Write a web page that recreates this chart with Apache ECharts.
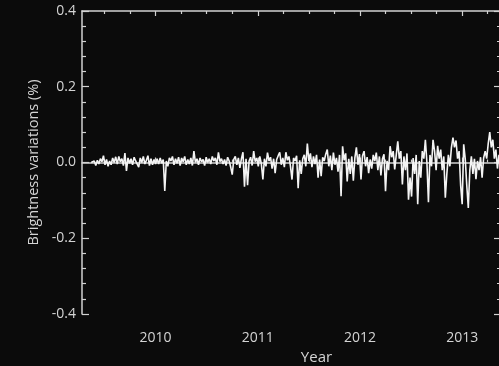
<!DOCTYPE html>
<html>
<head>
<meta charset="utf-8">
<title>Brightness variations</title>
<script src="https://cdn.jsdelivr.net/npm/echarts@6.0.0/dist/echarts.min.js"></script>
<style>
  html, body { margin: 0; padding: 0; background: #0b0b0b; }
  #chart { width: 499px; height: 366px; }
</style>
</head>
<body>
<div id="chart"></div>
<script>
// Light curve sampling: first sample time and cadence (years)
const sampleStart = 2009.37;
const sampleStep = 0.015;

// Relative brightness (%) per sample, 2009.37 - 2010.0
const values2009 = [
  0.000, -0.005, 0.004, -0.008, 0.006, -0.004, 0.010, 0.002, 0.018, -0.006,
  0.008, -0.010, 0.004, -0.006, 0.012, 0.000, 0.015, -0.004, 0.016, 0.002,
  0.010, -0.008, 0.025, -0.022, 0.012, -0.002, 0.010, -0.006, 0.014, 0.004,
  0.008, -0.012, 0.012, 0.000, 0.016, -0.004, 0.006, 0.018, -0.008, 0.010,
  -0.006, 0.008, -0.004
];
// 2010
const values2010 = [
  0.010, -0.004, 0.012, -0.002, 0.008, -0.075, 0.004, -0.010, 0.012, 0.004,
  0.016, -0.006, 0.010, -0.002, 0.014, -0.008, 0.012, 0.002, 0.016, -0.006,
  0.008, -0.004, 0.012, -0.008, 0.030, 0.000, 0.010, -0.006, 0.012, 0.002,
  0.008, -0.008, 0.014, 0.000, 0.010, -0.004, 0.016, 0.004, 0.012, -0.006,
  0.027, 0.002, 0.010, -0.004, 0.008, -0.008, 0.014, 0.004, -0.012, -0.032,
  0.008, 0.016, -0.006, 0.012, -0.014, 0.010, 0.027, -0.064, 0.010, -0.060,
  0.004, 0.014, -0.008, 0.030, 0.002, 0.012, -0.010
];
// 2011
const values2011 = [
  0.016, -0.004, -0.045, 0.010, -0.010, 0.026, 0.004, 0.014, -0.016, 0.010,
  -0.028, 0.008, 0.018, 0.027, -0.006, 0.012, -0.012, 0.027, 0.006, 0.016,
  -0.010, -0.045, 0.012, 0.004, 0.018, -0.068, 0.006, -0.030, 0.010, 0.020,
  -0.010, 0.050, 0.004, 0.024, -0.012, 0.016, -0.004, 0.020, -0.040, 0.008,
  -0.036, 0.014, 0.004, 0.022, 0.034, -0.010, 0.018, -0.020, 0.026, -0.006,
  0.012, -0.024, 0.020, -0.089, 0.043, 0.006, 0.024, -0.050, 0.010, -0.030,
  0.016, -0.048, 0.012, 0.040, -0.006, 0.022
];
// 2012
const values2012 = [
  -0.045, 0.018, 0.030, -0.010, 0.014, -0.028, 0.008, -0.016, 0.020, 0.004,
  0.026, -0.020, 0.016, -0.034, 0.010, 0.022, -0.076, 0.004, -0.020, 0.043,
  0.014, 0.030, -0.018, 0.020, 0.056, 0.010, 0.030, -0.058, 0.016, -0.020,
  0.024, -0.098, -0.040, -0.090, 0.012, -0.030, 0.020, -0.110, 0.004, -0.040,
  0.030, 0.010, 0.060, 0.000, -0.105, 0.020, -0.010, 0.060, 0.030, -0.020,
  0.044, 0.010, 0.034, -0.020, 0.016, -0.093, -0.030, 0.020, -0.010, 0.040,
  0.066, 0.040, 0.058, 0.010, 0.030, -0.060, -0.110
];
// 2013
const values2013 = [
  0.048, 0.010, -0.060, -0.120, -0.020, 0.016, -0.030, 0.010, -0.044, 0.004,
  -0.020, 0.014, -0.040, 0.012, 0.030, 0.010, 0.050, 0.080, 0.040, 0.060,
  0.010, 0.034, -0.016, 0.020, 0.004
];

// Axis ticks
const yearTicks = [2010, 2011, 2012, 2013];
const quarterTicks = [2009.5, 2009.75, 2010.25, 2010.5, 2010.75, 2011.25, 2011.5,
  2011.75, 2012.25, 2012.5, 2012.75, 2013.25];
const yTicks = [-0.4, -0.2, 0.0, 0.2, 0.4];

const xMin = 2009.28, xMax = 2013.38;

const brightness = [].concat(values2009, values2010, values2011, values2012, values2013);
const seriesData = brightness.map((v, i) => [sampleStart + i * sampleStep, v]);

const axisColor = '#d2d2d2';
const textColor = '#d4d4d4';
const fontFamily = '"Open Sans", "DejaVu Sans", sans-serif';

function xAxisDef(position, ticks, len, withLine, withLabels) {
  return {
    type: 'value', position: position, min: xMin, max: xMax,
    axisLine: { show: withLine, lineStyle: { color: axisColor, width: 1.5 } },
    axisTick: { show: true, inside: true, length: len, customValues: ticks,
      lineStyle: { color: axisColor, width: 1.2 } },
    axisLabel: withLabels
      ? { show: true, customValues: yearTicks, margin: 17, color: textColor,
          fontSize: 14, fontFamily: fontFamily, formatter: v => String(Math.round(v)) }
      : { show: false },
    splitLine: { show: false }
  };
}

function yAxisDef(position, withLabels) {
  return {
    type: 'value', position: position, min: -0.4, max: 0.4, interval: 0.2,
    axisLine: { show: true, lineStyle: { color: axisColor, width: 1.5 } },
    axisTick: { show: true, inside: true, length: 7, lineStyle: { color: axisColor, width: 1.2 } },
    minorTick: { show: true, splitNumber: 5, length: 4, lineStyle: { color: axisColor, width: 1.2 } },
    axisLabel: withLabels
      ? { show: true, margin: 6, color: textColor, fontSize: 14, fontFamily: fontFamily,
          customValues: yTicks, formatter: v => v.toFixed(1) }
      : { show: false },
    splitLine: { show: false },
    minorSplitLine: { show: false }
  };
}

const bottomMain = xAxisDef('bottom', yearTicks, 5, true, true);
bottomMain.name = 'Year';
bottomMain.nameLocation = 'middle';
bottomMain.nameGap = 36;
bottomMain.nameTextStyle = { color: textColor, fontSize: 15, fontFamily: fontFamily, padding: [0, 0, 0, 50] };

const leftMain = yAxisDef('left', true);
leftMain.name = 'Brightness variations (%)';
leftMain.nameLocation = 'middle';
leftMain.nameGap = 41;
leftMain.nameTextStyle = { color: textColor, fontSize: 14.5, fontFamily: fontFamily };

const chart = echarts.init(document.getElementById('chart'), null, { renderer: 'canvas' });
chart.setOption({
  backgroundColor: '#0b0b0b',
  animation: false,
  grid: { left: 82, top: 11, width: 419, bottom: 52, containLabel: false, outerBoundsMode: 'none' },
  xAxis: [
    bottomMain,
    xAxisDef('bottom', quarterTicks, 3, false, false),
    xAxisDef('top', yearTicks, 5, true, false),
    xAxisDef('top', quarterTicks, 3, false, false)
  ],
  yAxis: [leftMain, yAxisDef('right', false)],
  series: [{
    type: 'line',
    xAxisIndex: 0,
    yAxisIndex: 0,
    data: seriesData,
    showSymbol: false,
    symbol: 'none',
    lineStyle: { color: '#f4f4f4', width: 1.6 },
    clip: true
  }]
});
</script>
</body>
</html>
